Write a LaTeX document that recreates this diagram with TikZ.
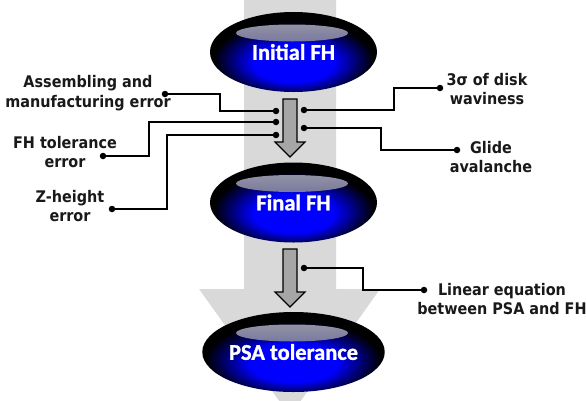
\documentclass[tikz,border=0pt]{standalone}
\usepackage{fontspec}
\setmainfont{DejaVu Sans}
\newfontfamily\lab{DejaVu Sans Condensed}
\newfontfamily\orbfont[BoldFeatures={FakeBold=1.2}]{Carlito}
\usetikzlibrary{shapes.geometric,calc}
\pgfdeclareradialshading{orb}{\pgfpoint{0bp}{-9bp}}{color(0bp)=(blue); color(12bp)=(blue); color(24bp)=(black); color(50bp)=(black)}
\definecolor{hltop}{RGB}{165,165,170}
\definecolor{hlbot}{RGB}{45,45,140}
\begin{document}
\begin{tikzpicture}[x=1pt,y=-1pt,
  conn/.style={line width=1.6pt, black},
  dot/.style={circle, fill=black, inner sep=0pt, minimum size=6.5pt},
  lbl/.style={font=\lab\bfseries\fontsize{16}{19.5}\selectfont, align=center, text=black!90},
  orbnode/.style={ellipse, shading=orb, minimum width=167pt, minimum height=80pt, inner sep=0pt,
    font=\orbfont\bfseries\fontsize{22.5}{24}\selectfont, text=white,
    path picture={\fill[top color=hltop, bottom color=hlbot]
      ($(path picture bounding box.center)+(-1.5,-19)$) ellipse [x radius=56pt, y radius=8.5pt];}},
  bigarrow/.style={fill=gray!30},
  smallarrow/.style={fill=black!35, draw=black, line width=1.2pt, line join=miter}]
\useasboundingbox (0,0) rectangle (586,400);
\begin{scope}
\clip (0,0) rectangle (586,400);
\fill[bigarrow] (244,-2) -- (336,-2) -- (336,289) -- (380,289) -- (290,416) -- (199,289) -- (244,289) -- cycle;
\end{scope}
% small arrows
\draw[smallarrow] (283,99) -- (297,99) -- (297,142) -- (305,142) -- (290,157) -- (275,142) -- (283,142) -- cycle;
\draw[smallarrow] (283,249) -- (297,249) -- (297,292) -- (305,292) -- (290,307) -- (275,292) -- (283,292) -- cycle;
% orbs
\node[orbnode] (ini) at (293.5,52) {Initial FH};
\node[orbnode] (fin) at (293.5,202.5) {Final FH};
\node[orbnode] (psa) at (293.5,352) {PSA tolerance};
% labels
\node[lbl] (lA) at (88,93) {Assembling and\\manufacturing error};
\node[lbl] (lB) at (65,152) {FH tolerance\\error};
\node[lbl] (lC) at (70,206) {Z-height\\error};
\node[lbl] (lD) at (487,89) {3σ of disk\\waviness};
\node[lbl] (lE) at (491,157) {Glide\\avalanche};
\node[lbl] (lF) at (502,299) {Linear equation\\between PSA and FH};
% dots
\node[dot] (dA) at (165,94) {};
\node[dot] (dB) at (103,156) {};
\node[dot] (dC) at (112,209) {};
\node[dot] (dD) at (440,88) {};
\node[dot] (dE) at (457,150) {};
\node[dot] (dF) at (424,290) {};
\node[dot] (pA) at (276,111) {};
\node[dot] (pB) at (276,122) {};
\node[dot] (pC) at (276,135) {};
\node[dot] (pD) at (304,110) {};
\node[dot] (pE) at (304,128) {};
\node[dot] (pF) at (304,268) {};
% connectors
\draw[conn] (dA.center) -- (220,94) |- (pA.center);
\draw[conn] (dB.center) -- (149,156) |- (pB.center);
\draw[conn] (dC.center) -- (167,209) |- (pC.center);
\draw[conn] (pD.center) -- (394,110) |- (dD.center);
\draw[conn] (pE.center) -- (381,128) |- (dE.center);
\draw[conn] (pF.center) -- (363,268) |- (dF.center);
\end{tikzpicture}
\end{document}
